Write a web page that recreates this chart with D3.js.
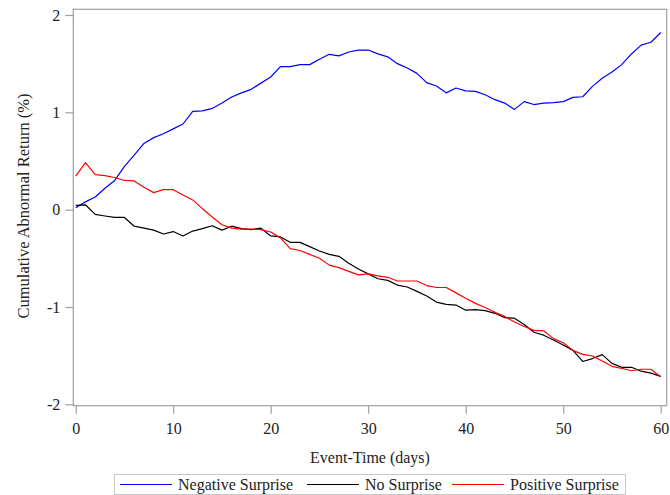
<!DOCTYPE html>
<html>
<head>
<meta charset="utf-8">
<script src="https://cdn.jsdelivr.net/npm/d3@7"></script>
<style>
  html, body { margin: 0; padding: 0; background: #fff; }
  svg { display: block; }
  text { font-family: "Liberation Serif", "Times New Roman", serif; fill: #222; }
</style>
</head>
<body>
<svg id="chart" width="670" height="495"></svg>
<script>
const days = d3.range(0, 61);
const negativeSurprise = [0.02,0.08,0.13,0.22,0.30,0.445,0.56,0.68,0.74,0.78,0.83,0.88,1.01,1.015,1.04,1.095,1.157,1.20,1.236,1.30,1.363,1.47,1.47,1.49,1.49,1.545,1.596,1.58,1.62,1.64,1.64,1.60,1.57,1.50,1.455,1.40,1.305,1.27,1.20,1.25,1.22,1.215,1.18,1.13,1.095,1.03,1.11,1.08,1.095,1.10,1.11,1.154,1.16,1.267,1.35,1.414,1.49,1.60,1.69,1.72,1.82];
const noSurprise = [0.044,0.05,-0.048,-0.065,-0.08,-0.08,-0.17,-0.19,-0.21,-0.25,-0.225,-0.27,-0.22,-0.195,-0.165,-0.21,-0.17,-0.195,-0.205,-0.19,-0.27,-0.28,-0.336,-0.336,-0.38,-0.425,-0.46,-0.48,-0.55,-0.61,-0.66,-0.71,-0.727,-0.775,-0.795,-0.84,-0.887,-0.95,-0.973,-0.98,-1.033,-1.028,-1.037,-1.065,-1.11,-1.115,-1.18,-1.26,-1.29,-1.34,-1.39,-1.446,-1.56,-1.53,-1.49,-1.58,-1.62,-1.62,-1.66,-1.68,-1.713];
const positiveSurprise = [0.345,0.483,0.36,0.35,0.33,0.30,0.295,0.23,0.175,0.205,0.205,0.15,0.10,0.01,-0.075,-0.155,-0.19,-0.2,-0.2,-0.205,-0.23,-0.29,-0.40,-0.42,-0.46,-0.50,-0.57,-0.596,-0.634,-0.67,-0.66,-0.68,-0.695,-0.733,-0.733,-0.733,-0.78,-0.80,-0.80,-0.855,-0.91,-0.963,-1.005,-1.055,-1.097,-1.155,-1.20,-1.24,-1.245,-1.325,-1.367,-1.446,-1.487,-1.504,-1.555,-1.61,-1.63,-1.655,-1.64,-1.64,-1.716];
const xTicks = [0, 10, 20, 30, 40, 50, 60];
const yTicks = [-2, -1, 0, 1, 2];
const seriesNames = ["Negative Surprise", "No Surprise", "Positive Surprise"];
const seriesColors = ["#0000ff", "#000000", "#ff0000"];

const series = [negativeSurprise, noSurprise, positiveSurprise];
const svg = d3.select("#chart");
const x = d3.scaleLinear().domain([0, 60]).range([75.7, 660.7]);
const y = d3.scaleLinear().domain([-2, 2]).range([404.3, 15]);
const frame = { left: 73.3, top: 9.3, right: 666.7, bottom: 405.7 };
const axisColor = "#a0a0a0";
const fmt = d => String(d);

// Frame
svg.append("rect")
  .attr("x", frame.left).attr("y", frame.top)
  .attr("width", frame.right - frame.left).attr("height", frame.bottom - frame.top)
  .attr("fill", "none").attr("stroke", axisColor).attr("stroke-width", 1.2);

// Y axis
const yAxis = svg.append("g")
  .attr("transform", `translate(${frame.left},0)`)
  .call(d3.axisLeft(y).tickValues(yTicks).tickFormat(fmt).tickSize(8).tickPadding(5));
yAxis.select(".domain").remove();
yAxis.selectAll(".tick line").attr("stroke", axisColor).attr("stroke-width", 1.2);
yAxis.selectAll(".tick text").attr("font-size", 16).attr("fill", "#222")
  .style("font-family", '"Liberation Serif", serif');

// X axis
const xAxis = svg.append("g")
  .attr("transform", `translate(0,${frame.bottom})`)
  .call(d3.axisBottom(x).tickValues(xTicks).tickFormat(fmt).tickSize(8).tickPadding(9));
xAxis.select(".domain").remove();
xAxis.selectAll(".tick line").attr("stroke", axisColor).attr("stroke-width", 1.2);
xAxis.selectAll(".tick text").attr("font-size", 16).attr("fill", "#222")
  .style("font-family", '"Liberation Serif", serif');

// Axis titles
svg.append("text")
  .attr("x", (frame.left + frame.right) / 2).attr("y", 463)
  .attr("text-anchor", "middle").attr("font-size", 16)
  .text("Event-Time (days)");
svg.append("text")
  .attr("transform", "translate(29,206) rotate(-90)")
  .attr("text-anchor", "middle").attr("font-size", 16.5)
  .text("Cumulative Abnormal Return (%)");

// Lines
const line = d3.line().x((d, i) => x(days[i])).y(d => y(d));
svg.append("g").selectAll("path").data(series).join("path")
  .attr("d", d => line(d))
  .attr("fill", "none")
  .attr("stroke", (d, i) => seriesColors[i])
  .attr("stroke-width", 1.2)
  .attr("stroke-linejoin", "round");

// Legend
const legend = svg.append("g");
legend.append("rect")
  .attr("x", 114.5).attr("y", 474.5).attr("width", 511).attr("height", 20)
  .attr("fill", "none").attr("stroke", "#c8c8c8").attr("stroke-width", 1);
const legendX = [120, 307, 452];
seriesNames.forEach((name, i) => {
  legend.append("line")
    .attr("x1", legendX[i]).attr("x2", legendX[i] + 52)
    .attr("y1", 484.5).attr("y2", 484.5)
    .attr("stroke", seriesColors[i]).attr("stroke-width", 1.2);
  legend.append("text")
    .attr("x", legendX[i] + 58).attr("y", 490)
    .attr("font-size", 16)
    .text(name);
});
</script>
</body>
</html>
